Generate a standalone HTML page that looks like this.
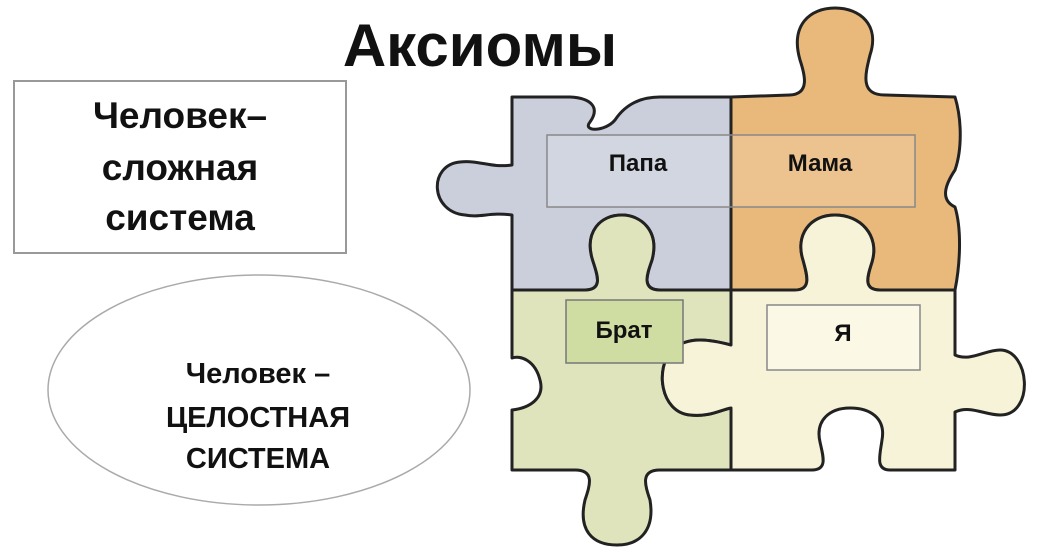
<!DOCTYPE html>
<html><head><meta charset="utf-8"><style>
html,body{margin:0;padding:0;background:#fff}
svg{display:block}
text{font-family:"Liberation Sans","DejaVu Sans",sans-serif;font-weight:bold;fill:#111}
</style></head><body>
<svg width="1050" height="553" viewBox="0 0 1050 553">
<text x="480" y="66" font-size="60" text-anchor="middle">Аксиомы</text>
<rect x="14" y="81" width="332" height="172" fill="#fff" stroke="#999" stroke-width="2"/>
<text x="180" y="128" font-size="37" text-anchor="middle">Человек–</text>
<text x="180" y="180" font-size="37" text-anchor="middle">сложная</text>
<text x="180" y="230" font-size="37" text-anchor="middle">система</text>
<ellipse cx="259" cy="390" rx="211" ry="115" fill="#fff" stroke="#aaa" stroke-width="1.5"/>
<text x="258" y="383" font-size="29" text-anchor="middle">Человек –</text>
<text x="258" y="427" font-size="29" text-anchor="middle">ЦЕЛОСТНАЯ</text>
<text x="258" y="468" font-size="29" text-anchor="middle">СИСТЕМА</text>
<g stroke="#222" stroke-width="3" stroke-linejoin="round">
<path fill="#cbcfdc" d="M512,97 L570,97 C592,98 600,108 590,122 C582,132 605,132 615,120 C625,105 640,97 660,97 L731,97 L731,290 L660,290 C640,290 648,272 652,260 C660,230 640,215 622,215 C600,215 585,232 592,258 C596,272 605,290 585,290 L512,290 L512,215 C490,212 480,218 465,215 C430,212 428,165 460,162 C480,160 490,168 512,165 Z"/>
<path fill="#e9b97c" d="M731,97 L790,95 C810,94 805,75 800,60 C790,25 810,8 835,8 C860,8 880,25 870,55 C865,75 860,95 885,95 L955,97 C962,120 962,150 955,170 C945,185 940,200 955,207 C962,230 960,265 955,290 L880,290 C862,290 868,275 872,262 C880,235 860,215 835,215 C810,215 795,235 803,260 C807,275 812,290 795,290 L731,290 Z"/>
<path fill="#e0e4bd" d="M512,290 L585,290 C605,290 596,272 592,258 C585,232 600,215 622,215 C640,215 660,230 652,260 C648,272 640,290 660,290 L731,290 L731,345 C712,340 688,335 672,350 C655,368 660,412 690,415 C710,417 720,410 731,408 L731,470 L660,470 C640,470 645,485 650,500 C655,530 640,545 617,545 C592,545 578,530 585,500 C590,485 595,470 575,470 L512,470 L512,410 C530,408 545,398 540,380 C535,360 520,355 512,358 Z"/>
<path fill="#f7f3d8" d="M731,290 L795,290 C812,290 807,275 803,260 C795,235 810,215 835,215 C860,215 880,235 872,262 C868,275 862,290 880,290 L955,290 L955,355 C970,362 985,350 1000,350 C1030,350 1035,415 1000,415 C985,415 970,405 955,412 L955,470 L890,470 C875,470 880,455 882,440 C886,418 870,408 850,408 C830,408 815,420 820,442 C823,456 828,470 812,470 L731,470 L731,408 C720,410 710,417 690,415 C660,412 655,368 672,350 C688,335 712,340 731,345 Z"/>
</g>
<rect x="547" y="135" width="368" height="72" fill="#fff" fill-opacity="0.15" stroke="#888" stroke-width="1.5"/>
<text x="638" y="171" font-size="24" text-anchor="middle">Папа</text>
<text x="820" y="171" font-size="24" text-anchor="middle">Мама</text>
<rect x="566" y="300" width="117" height="63" fill="#cfdca2" stroke="#777" stroke-width="1.5"/>
<text x="624" y="338" font-size="24" text-anchor="middle">Брат</text>
<rect x="767" y="305" width="153" height="65" fill="#fbf8e6" stroke="#888" stroke-width="1.5"/>
<text x="843" y="341" font-size="24" text-anchor="middle">Я</text>
</svg>
</body></html>
